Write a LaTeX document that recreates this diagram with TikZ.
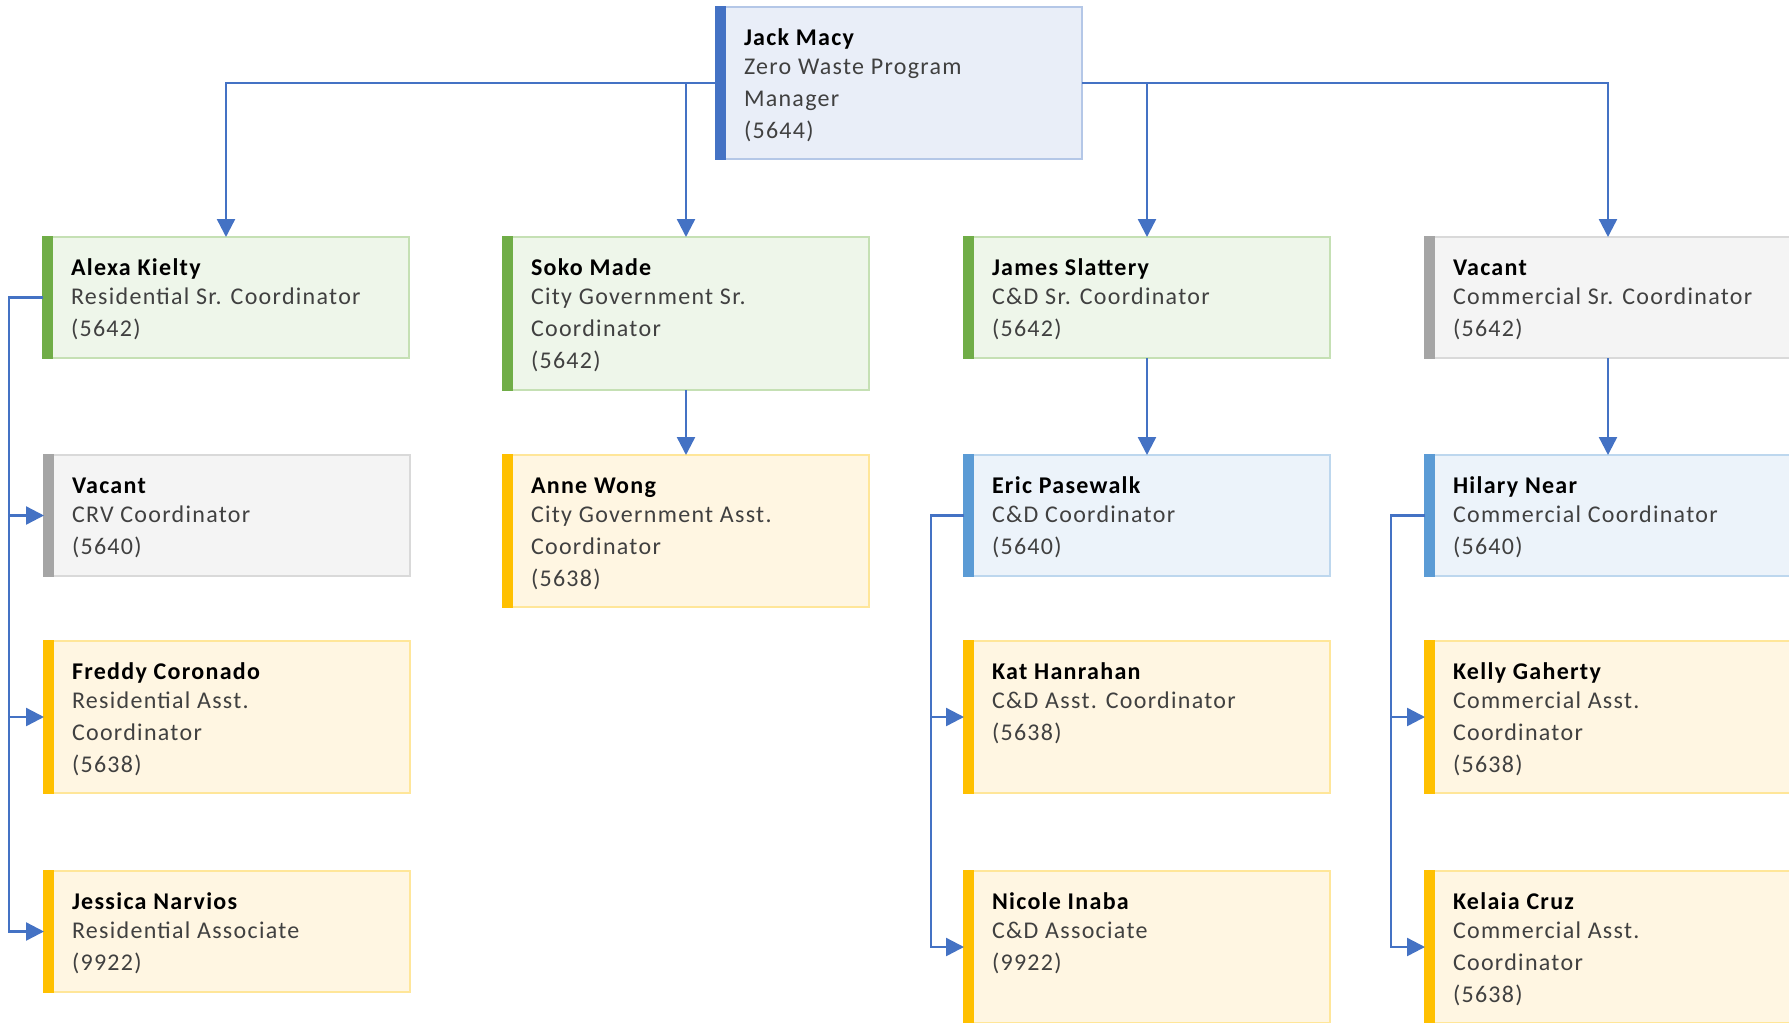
\documentclass[tikz,border=0pt]{standalone}
\usepackage{fontspec}
\setmainfont{Carlito}[LetterSpace=5.4]
\usetikzlibrary{arrows.meta}
\definecolor{conn}{HTML}{4472C4}
\definecolor{titlegray}{HTML}{404040}
\definecolor{jkfill}{HTML}{E9EEF8}\definecolor{jkline}{HTML}{B4C7E7}\definecolor{jkacc}{HTML}{4472C4}
\definecolor{grfill}{HTML}{EEF6EA}\definecolor{grline}{HTML}{C5E0B4}\definecolor{gracc}{HTML}{70AD47}
\definecolor{gyfill}{HTML}{F4F4F4}\definecolor{gyline}{HTML}{D9D9D9}\definecolor{gyacc}{HTML}{A5A5A5}
\definecolor{ylfill}{HTML}{FFF6E2}\definecolor{ylline}{HTML}{FFE699}\definecolor{ylacc}{HTML}{FFC000}
\definecolor{lbfill}{HTML}{ECF3FA}\definecolor{lbline}{HTML}{BDD7EE}\definecolor{lbacc}{HTML}{5B9BD5}
\tikzset{
  orgbox/.style={draw=#1line, fill=#1fill, line width=2pt, minimum width=366pt,
    inner sep=0pt, outer sep=0pt},
  txt/.style={align=left, inner sep=0pt, outer sep=0pt, text=titlegray,
    font=\fontsize{24}{32}\selectfont},
  link/.style={draw=conn, line width=2.4pt, -{Triangle[length=18pt,width=18pt]}},
}
\newcommand\orgbox[7]{%
  \node[orgbox=#5, minimum height=#4pt, anchor=north west] (#1) at (#2,#3) {};
  \fill[#5acc] ([xshift=-1pt,yshift=1pt]#1.north west) rectangle ([xshift=10pt,yshift=-1pt]#1.south west);
  \node[txt, anchor=north west] (#1t) at ([xshift=28pt,yshift=-16.1pt]#1.north west)
    {\strut\textcolor{black}{\textbf{#6}}\\[-3pt]#7};
}
\begin{document}
\begin{tikzpicture}[x=1pt,y=-1pt]
\useasboundingbox (0,0) rectangle (1789,1023);
\clip (0,0) rectangle (1789,1023);
\orgbox{jack}{716}{7}{152}{jk}{Jack Macy}{Zero Waste Program\\Manager\\(5644)}
\orgbox{alexa}{43}{237}{121}{gr}{Alexa Kielty}{Residential Sr. Coordinator\\(5642)}
\orgbox{soko}{503}{237}{153}{gr}{Soko Made}{City Government Sr.\\Coordinator\\(5642)}
\orgbox{james}{964}{237}{121}{gr}{James Slattery}{C\&D Sr. Coordinator\\(5642)}
\orgbox{vacc}{1425}{237}{121}{gy}{Vacant}{Commercial Sr. Coordinator\\(5642)}
\orgbox{vacrv}{44}{455}{121}{gy}{Vacant}{CRV Coordinator\\(5640)}
\orgbox{freddy}{44}{641}{152}{yl}{Freddy Coronado}{Residential Asst.\\Coordinator\\(5638)}
\orgbox{jessica}{44}{871}{121}{yl}{Jessica Narvios}{Residential Associate\\(9922)}
\orgbox{anne}{503}{455}{152}{yl}{Anne Wong}{City Government Asst.\\Coordinator\\(5638)}
\orgbox{eric}{964}{455}{121}{lb}{Eric Pasewalk}{C\&D Coordinator\\(5640)}
\orgbox{kat}{964}{641}{152}{yl}{Kat Hanrahan}{C\&D Asst. Coordinator\\(5638)}
\orgbox{nicole}{964}{871}{152}{yl}{Nicole Inaba}{C\&D Associate\\(9922)}
\orgbox{hilary}{1425}{455}{121}{lb}{Hilary Near}{Commercial Coordinator\\(5640)}
\orgbox{kelly}{1425}{641}{152}{yl}{Kelly Gaherty}{Commercial Asst.\\Coordinator\\(5638)}
\orgbox{kelaia}{1425}{871}{152}{yl}{Kelaia Cruz}{Commercial Asst.\\Coordinator\\(5638)}
% top level
\draw[link] (jack.west) -| (alexa.north);
\draw[link] (jack.west) -| (soko.north);
\draw[link] (jack.east) -| (james.north);
\draw[link] (jack.east) -| (vacc.north);
\draw[link] (soko.south) -- (anne.north);
\draw[link] (james.south) -- (eric.north);
\draw[link] (vacc.south) -- (hilary.north);
% side branches
\coordinate (ra) at ([xshift=-34pt]alexa.west);
\draw[link] (alexa.west) -- (ra) |- (vacrv.west);
\draw[link] (alexa.west) -- (ra) |- (freddy.west);
\draw[link] (alexa.west) -- (ra) |- (jessica.west);
\coordinate (re) at ([xshift=-33pt]eric.west);
\draw[link] (eric.west) -- (re) |- (kat.west);
\draw[link] (eric.west) -- (re) |- (nicole.west);
\coordinate (rh) at ([xshift=-34pt]hilary.west);
\draw[link] (hilary.west) -- (rh) |- (kelly.west);
\draw[link] (hilary.west) -- (rh) |- (kelaia.west);
\end{tikzpicture}
\end{document}
